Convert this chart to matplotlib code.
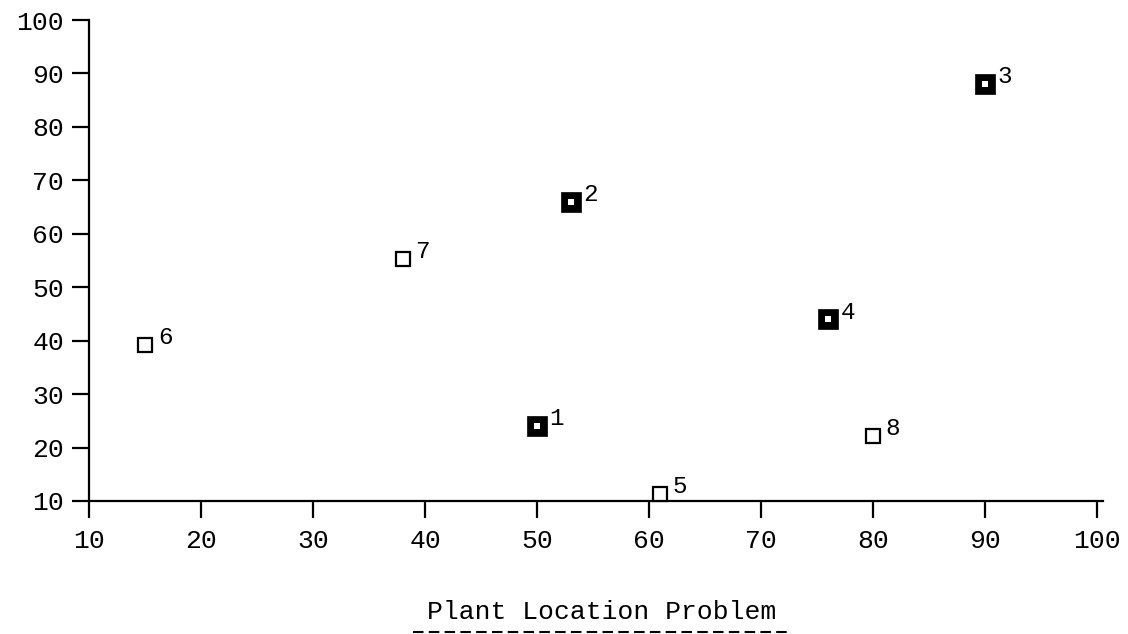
import matplotlib
matplotlib.use("Agg")
import matplotlib.pyplot as plt
from matplotlib.lines import Line2D

# Data
labels = ["1", "2", "3", "4", "5", "6", "7", "8"]
x_vals = [50, 53, 90, 76, 61, 15, 38, 80]
y_vals = [24, 66, 88, 44, 11.3, 39.2, 55.3, 22.2]
filled = [True, True, True, True, False, False, False, False]
ticks = [10, 20, 30, 40, 50, 60, 70, 80, 90, 100]
title = "Plant Location Problem"

W, H = 1128, 634
fig = plt.figure(figsize=(W / 100, H / 100), dpi=100)
FONT = "Liberation Mono"

x0_px, x100_px, xend_px = 89.3, 1096.5, 1103
ytop_px, ybot_px = 20, 501
ax = fig.add_axes([x0_px / W, (H - ybot_px) / H, (xend_px - x0_px) / W, (ybot_px - ytop_px) / H])
xpu = (x100_px - x0_px) / 90.0
ax.set_xlim(10, 100 + (xend_px - x100_px) / xpu)
ax.set_ylim(10, 100)

for s in ["top", "right"]:
    ax.spines[s].set_visible(False)
for s in ["left", "bottom"]:
    ax.spines[s].set_linewidth(1.6)
    ax.spines[s].set_color("black")

ax.set_xticks(ticks)
ax.set_yticks(ticks)
ax.tick_params(direction="out", length=12.2, width=1.6, color="black", labelsize=19)
ax.tick_params(axis="y", pad=6)
ax.tick_params(axis="x", pad=8)
for lab in ax.get_xticklabels() + ax.get_yticklabels():
    lab.set_fontfamily(FONT)

for xv, yv, f, lab in zip(x_vals, y_vals, filled, labels):
    if f:
        ax.plot([xv], [yv], marker="s", ms=14.5, mfc="black", mec="black", mew=0.5,
                linestyle="none", clip_on=False, zorder=3)
        ax.plot([xv], [yv], marker="s", ms=4.0, mfc="white", mec="white", mew=0,
                linestyle="none", clip_on=False, zorder=4)
    else:
        ax.plot([xv], [yv], marker="s", ms=10.3, mfc="white", mec="black", mew=1.6,
                linestyle="none", clip_on=False, zorder=3)
    ax.annotate(lab, (xv, yv), xytext=(9, 0.5), textcoords="offset points",
                ha="left", va="baseline", fontsize=17.5, family=FONT, color="black",
                annotation_clip=False)

fig.text(601.5 / W, (H - 619) / H, title, ha="center", va="baseline", fontsize=19, family=FONT)

# underline of the title drawn as a dashed rule (24 dashes)
yline = (H - 631.5) / H
fig.add_artist(Line2D([413 / W, 792 / W], [yline, yline], transform=fig.transFigure,
                      color="black", linewidth=1.5, linestyle=(0, (5.04, 2.54)),
                      solid_capstyle="butt", dash_capstyle="butt"))

fig.savefig("out.png", dpi=100)
